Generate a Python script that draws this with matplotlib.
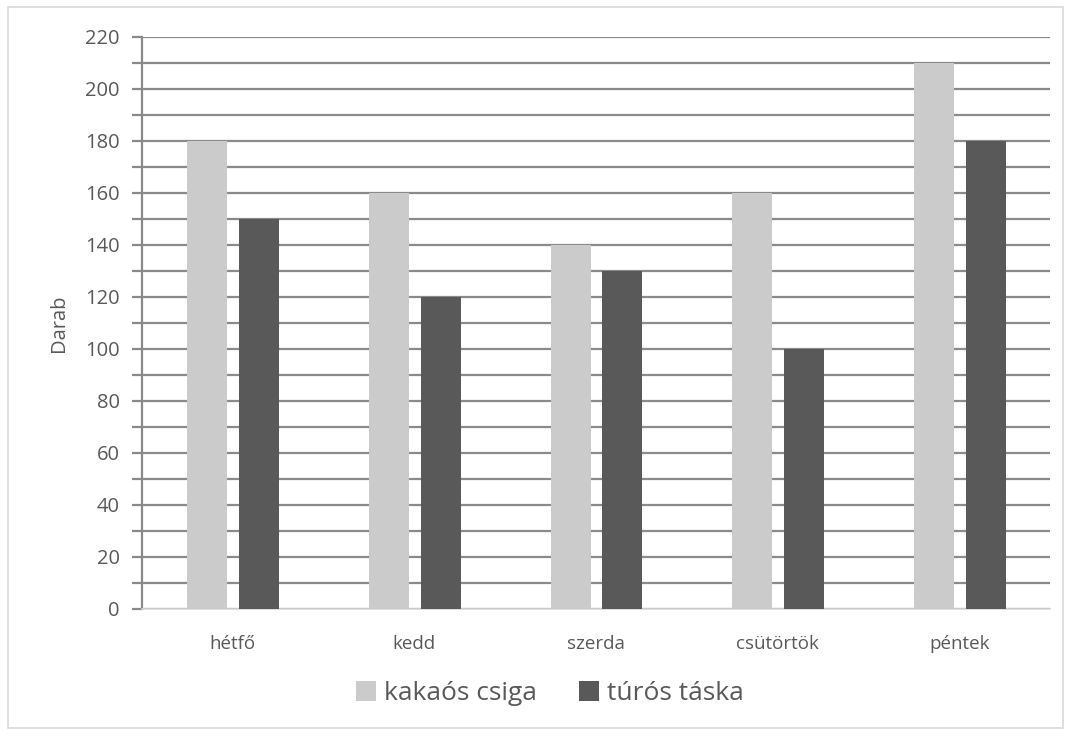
import numpy as np
import matplotlib
matplotlib.use("Agg")
import matplotlib.pyplot as plt
from matplotlib.patches import Rectangle

# data
days = ["hétfő", "kedd", "szerda", "csütörtök", "péntek"]
kakaos = [180, 160, 140, 160, 210]
turos = [150, 120, 130, 100, 180]
series_names = ["kakaós csiga", "túrós táska"]

light = "#cbcbcb"
dark = "#595959"
txt = "#595959"
grid = "#8a8a8a"

plt.rcParams['font.family'] = ['Open Sans', 'DejaVu Sans']

fig = plt.figure(figsize=(10.71, 7.37), dpi=100)
ax = fig.add_axes([0.1326, 0.1737, 0.8478, 0.7761])

x = np.arange(len(days))
w = 0.22
ax.bar(x - 0.14, kakaos, w, color=light, zorder=3, label=series_names[0])
ax.bar(x + 0.145, turos, w, color=dark, zorder=3, label=series_names[1])

ax.set_xlim(-0.5, len(days) - 0.5)
ax.set_ylim(0, 220)
ax.set_yticks(np.arange(0, 221, 20))
ax.set_yticks(np.arange(0, 221, 10), minor=True)
ax.set_xticks(x)
ax.set_xticklabels(days)
ax.grid(axis='y', which='both', color=grid, linewidth=1.6, zorder=0)

for s in ['top', 'right']:
    ax.spines[s].set_visible(False)
ax.spines['left'].set_color(grid)
ax.spines['left'].set_linewidth(1.6)
ax.spines['bottom'].set_color("#d9d9d9")
ax.spines['bottom'].set_linewidth(1.2)

ax.tick_params(axis='y', which='both', length=7, width=1.6, color=grid,
               labelsize=14.5, labelcolor=txt, pad=9)
ax.tick_params(axis='x', length=0, labelsize=13.5, labelcolor=txt, pad=19)
ax.set_ylabel("Darab", fontsize=14.5, color=txt, labelpad=12)

ax.legend(loc='center', bbox_to_anchor=(0.449, -0.148), ncol=2, frameon=False,
          fontsize=19, labelcolor=txt, handlelength=0.75, handleheight=0.75,
          handletextpad=0.3, columnspacing=1.6)

# outer border
fig.patches.append(Rectangle((8 / 1071, 1 - 728 / 737), 1055 / 1071, 721 / 737,
                             transform=fig.transFigure, fill=False,
                             edgecolor="#d9d9d9", linewidth=1.2))

fig.savefig("out.png", dpi=100)
